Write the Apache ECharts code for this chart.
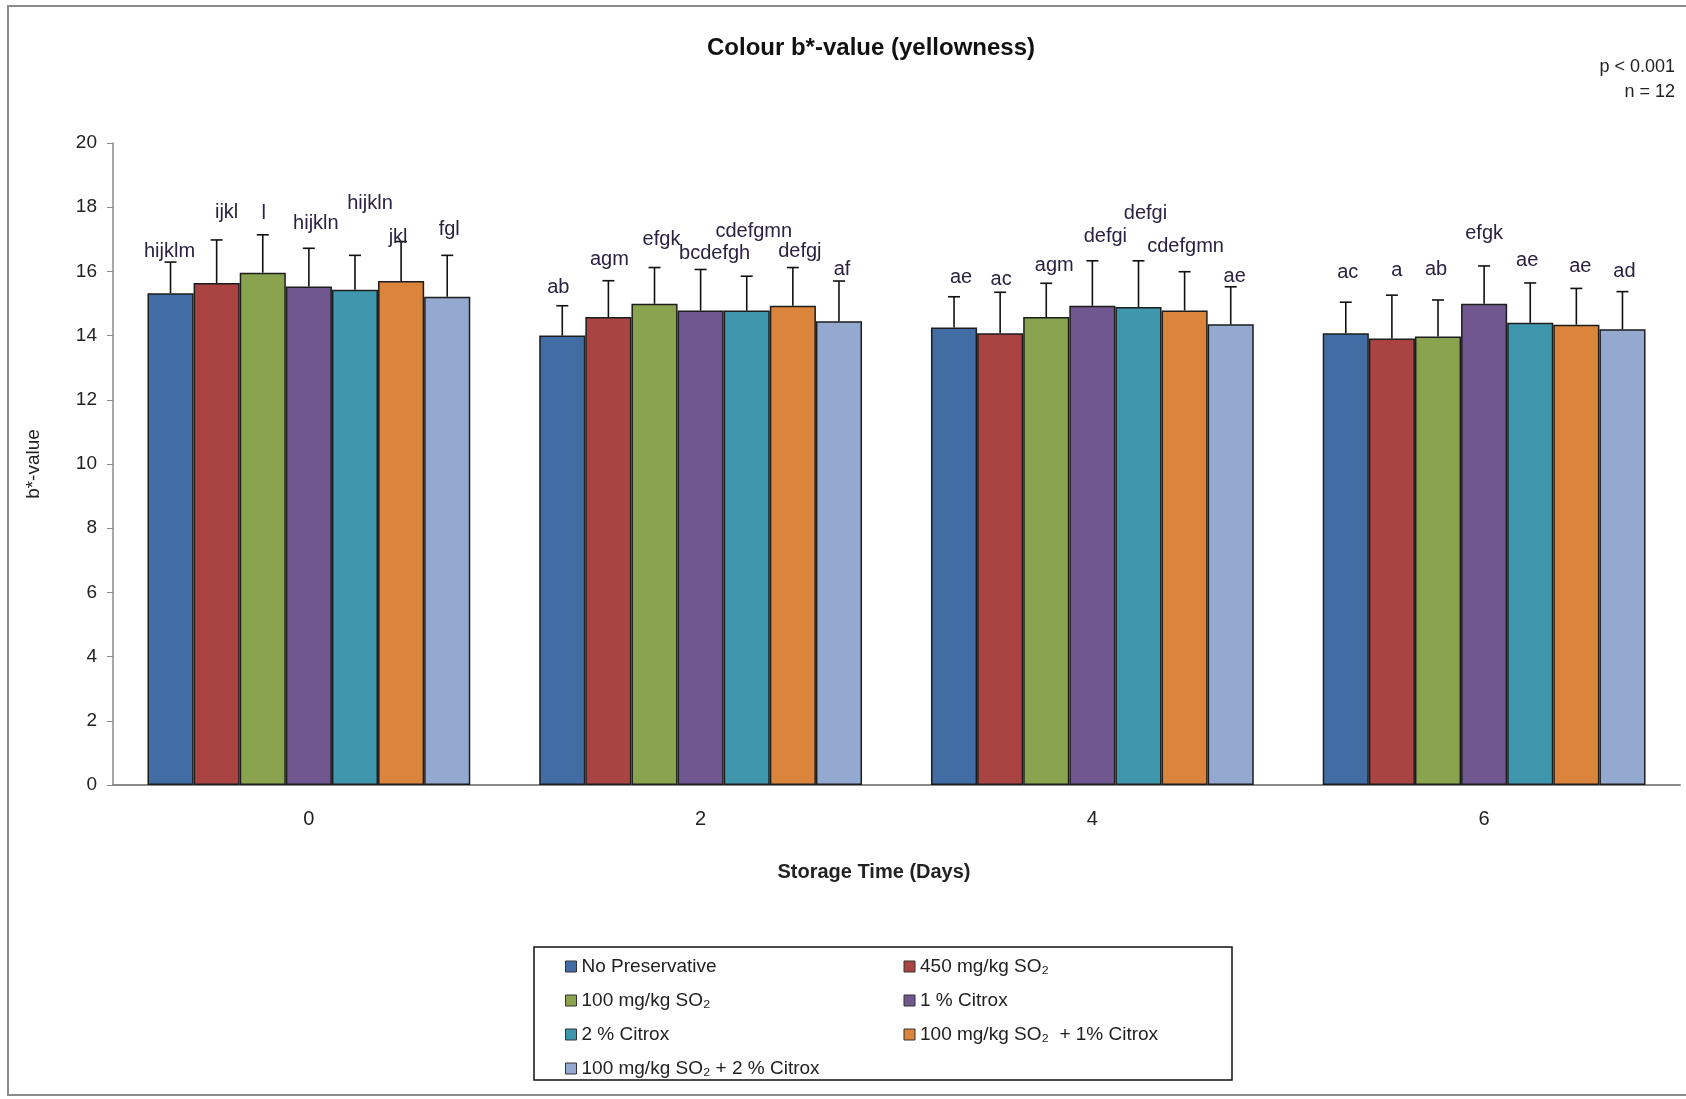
<!DOCTYPE html>
<html>
<head>
<meta charset="utf-8">
<script src="https://cdn.jsdelivr.net/npm/echarts@6/dist/echarts.min.js"></script>
<style>
html,body{margin:0;padding:0;background:#fff;}
#chart{width:1686px;height:1099px;}
</style>
</head>
<body>
<div id="chart"></div>
<script>
// ---- data ----
const days = ['0', '2', '4', '6'];
const seriesNames = [
  'No Preservative',
  '450 mg/kg SO\u2082',
  '100 mg/kg SO\u2082',
  '1 % Citrox',
  '2 % Citrox',
  '100 mg/kg SO\u2082  + 1% Citrox',
  '100 mg/kg SO\u2082 + 2 % Citrox'
];
const noPreservative   = [15.32, 14.00, 14.25, 14.07];
const so2_450          = [15.64, 14.58, 14.07, 13.91];
const so2_100          = [15.96, 14.99, 14.58, 13.97];
const citrox1          = [15.53, 14.78, 14.93, 14.99];
const citrox2          = [15.43, 14.78, 14.89, 14.40];
const so2_100_citrox1  = [15.70, 14.93, 14.78, 14.34];
const so2_100_citrox2  = [15.21, 14.45, 14.35, 14.20];

const sdNoPreservative  = [0.97, 0.93, 0.96, 0.97];
const sdSo2_450         = [1.34, 1.13, 1.28, 1.35];
const sdSo2_100         = [1.18, 1.13, 1.05, 1.14];
const sdCitrox1         = [1.19, 1.28, 1.40, 1.18];
const sdCitrox2         = [1.07, 1.07, 1.44, 1.24];
const sdSo2_100_citrox1 = [1.23, 1.19, 1.21, 1.13];
const sdSo2_100_citrox2 = [1.29, 1.25, 1.17, 1.17];

const lettersNoPreservative  = ['hijklm', 'ab', 'ae', 'ac'];
const lettersSo2_450         = ['ijkl', 'agm', 'ac', 'a'];
const lettersSo2_100         = ['l', 'efgk', 'agm', 'ab'];
const lettersCitrox1         = ['hijkln', 'bcdefgh', 'defgi', 'efgk'];
const lettersCitrox2         = ['hijkln', 'cdefgmn', 'defgi', 'ae'];
const lettersSo2_100_citrox1 = ['jkl', 'defgj', 'cdefgmn', 'ae'];
const lettersSo2_100_citrox2 = ['fgl', 'af', 'ae', 'ad'];

const yTicks = [0, 2, 4, 6, 8, 10, 12, 14, 16, 18, 20];

// ---- assembly ----
const means = [noPreservative, so2_450, so2_100, citrox1, citrox2, so2_100_citrox1, so2_100_citrox2];
const sds = [sdNoPreservative, sdSo2_450, sdSo2_100, sdCitrox1, sdCitrox2, sdSo2_100_citrox1, sdSo2_100_citrox2];
const letters = [lettersNoPreservative, lettersSo2_450, lettersSo2_100, lettersCitrox1, lettersCitrox2, lettersSo2_100_citrox1, lettersSo2_100_citrox2];

// ---- styling / layout (label placement as in the original) ----
const colors = ['#416DA4', '#A94442', '#89A34E', '#71578F', '#3F97AE', '#DA843C', '#93A9CF'];
const labelLift = [
  [11, 18, 19, 30],
  [27, 21, 13, 25],
  [21, 28, 18, 30],
  [25, 16, 24, 32],
  [52, 45, 47, 22],
  [4, 16, 25, 22],
  [26, 12, 10, 20]
];
const labelDx = [
  [-1, -4, 7, 2],
  [10, 1, 1, 5],
  [1, 7, 8, -2],
  [7, 14, 13, 0],
  [15, 7, 7, -3],
  [-3, 7, 1, 4],
  [2, 3, 4, 2]
];
const CAT_GAP = 0.176;
const FONT = '"Liberation Sans", Arial, sans-serif';

const series = [];
seriesNames.forEach((name, s) => {
  series.push({
    name: name,
    type: 'bar',
    data: means[s],
    barGap: '0%',
    barCategoryGap: (CAT_GAP * 100) + '%',
    itemStyle: { color: colors[s], borderColor: '#1d1d1d', borderWidth: 1.5 },
    emphasis: { disabled: true },
    z: 2
  });
});
seriesNames.forEach((name, s) => {
  series.push({
    name: name + '_err',
    type: 'custom',
    z: 5,
    silent: true,
    data: means[s].map((m, d) => [d, m, sds[s][d]]),
    encode: { x: 0, y: 1 },
    renderItem: function (params, api) {
      const d = api.value(0);
      const m = api.value(1);
      const sd = api.value(2);
      const catW = api.size([1, 0])[0];
      const bw = catW * (1 - CAT_GAP) / 7;
      const p0 = api.coord([d, m]);
      const p1 = api.coord([d, m + sd]);
      const x = p0[0] + (s - 3) * bw;
      return {
        type: 'group',
        children: [
          { type: 'line', shape: { x1: x, y1: p0[1], x2: x, y2: p1[1] }, style: { stroke: '#111', lineWidth: 1.6 } },
          { type: 'line', shape: { x1: x - 6, y1: p1[1], x2: x + 6, y2: p1[1] }, style: { stroke: '#111', lineWidth: 1.6 } },
          { type: 'text', x: x + labelDx[s][d], y: p1[1] - labelLift[s][d],
            style: { text: letters[s][d], fill: '#2a2240', font: '20px ' + FONT, align: 'center', verticalAlign: 'middle' } }
        ]
      };
    }
  });
});

const chart = echarts.init(document.getElementById('chart'), null, { renderer: 'canvas' });
chart.setOption({
  backgroundColor: '#fff',
  animation: false,
  color: colors,
  textStyle: { fontFamily: FONT },
  title: [
    { text: 'Colour b*-value (yellowness)', left: 871, top: 36, textAlign: 'center', padding: 0,
      textStyle: { fontSize: 24, fontWeight: 'bold', color: '#111', fontFamily: FONT } },
    { text: 'p < 0.001\nn = 12', left: 1675, top: 55, textAlign: 'right', padding: 0,
      textStyle: { fontSize: 18, fontWeight: 'normal', color: '#222', lineHeight: 25, fontFamily: FONT, align: 'right' } },
    { text: 'Storage Time (Days)', left: 874, top: 862, textAlign: 'center', padding: 0,
      textStyle: { fontSize: 20, fontWeight: 'bold', color: '#222', fontFamily: FONT } }
  ],
  grid: { left: 113, right: 6, top: 143, bottom: 314, containLabel: false },
  xAxis: {
    type: 'category',
    data: days,
    axisLine: { lineStyle: { color: '#8a8a8a', width: 2 } },
    axisTick: { show: false },
    axisLabel: { fontSize: 20, color: '#222', margin: 24, fontFamily: FONT }
  },
  yAxis: {
    type: 'value',
    min: yTicks[0],
    max: yTicks[yTicks.length - 1],
    interval: yTicks[1] - yTicks[0],
    name: 'b*-value',
    nameLocation: 'middle',
    nameGap: 70,
    nameRotate: 90,
    nameTextStyle: { fontSize: 19, color: '#222', fontFamily: FONT },
    splitLine: { show: false },
    axisLine: { show: true, lineStyle: { color: '#8a8a8a', width: 1.5 } },
    axisTick: { show: true, inside: false, length: 6, lineStyle: { color: '#8a8a8a' } },
    axisLabel: { fontSize: 19, color: '#222', margin: 16, fontFamily: FONT }
  },
  legend: {
    data: seriesNames,
    left: 565,
    top: 957,
    width: 700,
    orient: 'horizontal',
    itemWidth: 11,
    itemHeight: 11,
    itemGap: 15,
    padding: 0,
    icon: 'rect',
    selectedMode: false,
    itemStyle: { borderColor: '#333', borderWidth: 1 },
    formatter: function (n) { return '{t|' + n + '}'; },
    textStyle: {
      fontFamily: FONT, fontSize: 19, color: '#222', padding: [0, 0, 0, 0],
      rich: { t: { width: 307, fontSize: 19, lineHeight: 19, fontFamily: FONT, color: '#222' } }
    }
  },
  graphic: [
    { type: 'rect', shape: { x: 8, y: 6, width: 1700, height: 1089 }, style: { fill: 'none', stroke: '#8c8c8c', lineWidth: 2 }, silent: true, z: -10 },
    { type: 'rect', shape: { x: 534, y: 947, width: 698, height: 133 }, style: { fill: 'none', stroke: '#111', lineWidth: 1.5 }, silent: true }
  ],
  series: series
});
</script>
</body>
</html>
